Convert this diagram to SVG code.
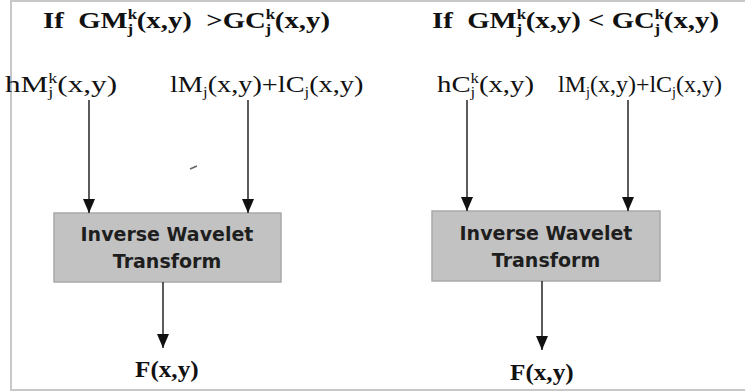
<svg xmlns="http://www.w3.org/2000/svg" width="745" height="392" viewBox="0 0 745 392">
<style>
.frame{fill:none;stroke:#c8c8c8;stroke-width:2}
.tb{font-family:"Liberation Serif","Times New Roman",serif;font-weight:bold;font-size:24px;fill:#111}
.tr{font-family:"Liberation Serif","Times New Roman",serif;font-size:24px;fill:#111}
.s{font-size:14px}
.box{fill:#c2c2c2;stroke:#a9a9a9;stroke-width:1.5}
.bt{font-family:"DejaVu Sans","Liberation Sans",sans-serif;font-weight:bold;font-size:19px;fill:#1e1e1e;text-anchor:middle}
.ln{fill:none;stroke:#333;stroke-width:1.6}
</style>
<defs>
<marker id="ah" viewBox="0 0 14 12" refX="14" refY="6" markerWidth="14" markerHeight="12" markerUnits="userSpaceOnUse" orient="auto">
<path d="M0,0 L14,6 L0,12 z" fill="#111"/>
</marker>
</defs>
<rect width="745" height="392" fill="#fff"/>
<path class="frame" d="M746,1 H11 V390 H746"/>

<g id="left-title">
<text class="tb" transform="translate(43,28) scale(1.2,1)">If&#160;&#160;GM<tspan class="s" dy="-9">k</tspan><tspan class="s" dx="-8" dy="15">j</tspan><tspan dx="3" dy="-6">(x,y)&#160;&#160;&gt;GC</tspan><tspan class="s" dy="-9">k</tspan><tspan class="s" dx="-8" dy="15">j</tspan><tspan dx="3" dy="-6">(x,y)</tspan></text>
</g>
<g id="right-title">
<text class="tb" transform="translate(432,28) scale(1.2,1)">If&#160;&#160;GM<tspan class="s" dy="-9">k</tspan><tspan class="s" dx="-8" dy="15">j</tspan><tspan dx="3" dy="-6">(x,y) &lt; GC</tspan><tspan class="s" dy="-9">k</tspan><tspan class="s" dx="-8" dy="15">j</tspan><tspan dx="3" dy="-6">(x,y)</tspan></text>
</g>

<g id="hM">
<text class="tr" transform="translate(5,92) scale(1.3,1)">hM<tspan class="s" dy="-9">k</tspan><tspan class="s" dx="-7" dy="14">j</tspan><tspan dx="3" dy="-5">(x,y)</tspan></text>
</g>
<g id="lM-left">
<text class="tr" transform="translate(170,92) scale(1.18,1)">lM<tspan class="s" dy="5">j</tspan><tspan dy="-5">(x,y)+lC</tspan><tspan class="s" dy="5">j</tspan><tspan dy="-5">(x,y)</tspan></text>
</g>
<g id="hC">
<text class="tr" transform="translate(437,92) scale(1.2,1)">hC<tspan class="s" dy="-9">k</tspan><tspan class="s" dx="-7" dy="14">j</tspan><tspan dx="3" dy="-5">(x,y)</tspan></text>
</g>
<g id="lM-right">
<text class="tr" transform="translate(558,92) scale(1.0,1)">lM<tspan class="s" dy="5">j</tspan><tspan dy="-5">(x,y)+lC</tspan><tspan class="s" dy="5">j</tspan><tspan dy="-5">(x,y)</tspan></text>
</g>

<g id="iwt-left">
<rect class="box" x="54" y="213" width="227" height="69"/>
<text class="bt" x="167" y="241">Inverse Wavelet</text>
<text class="bt" x="167" y="268">Transform</text>
</g>
<g id="iwt-right">
<rect class="box" x="432" y="211" width="228" height="70"/>
<text class="bt" x="546" y="240">Inverse Wavelet</text>
<text class="bt" x="546" y="267">Transform</text>
</g>

<g id="out-left">
<text class="tb" transform="translate(135,377) scale(1.05,1)" font-size="22">F(x,y)</text>
</g>
<g id="out-right">
<text class="tb" transform="translate(510,380) scale(1.05,1)" font-size="22">F(x,y)</text>
</g>

<g id="connectors">
<line class="ln" x1="89" y1="100" x2="89" y2="213" marker-end="url(#ah)" stroke="#555"/>
<line class="ln" x1="248" y1="100" x2="248" y2="213" marker-end="url(#ah)" stroke-width="2"/>
<line class="ln" x1="163" y1="282" x2="163" y2="348" marker-end="url(#ah)"/>
<line class="ln" x1="467" y1="100" x2="467" y2="211" marker-end="url(#ah)" stroke="#555"/>
<line class="ln" x1="628" y1="100" x2="628" y2="211" marker-end="url(#ah)" stroke="#555"/>
<line class="ln" x1="542" y1="281" x2="542" y2="350" marker-end="url(#ah)" stroke-width="2"/>
</g>
<path d="M190,169 L197,166" stroke="#666" stroke-width="1.5" fill="none"/>
</svg>
